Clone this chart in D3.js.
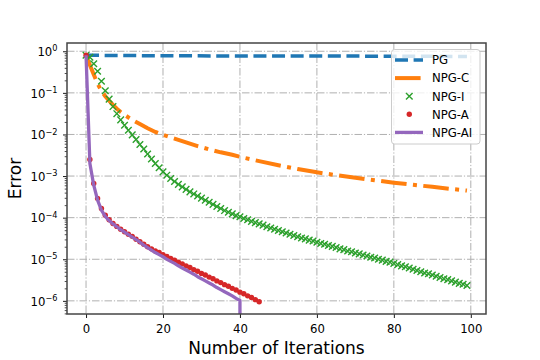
<!DOCTYPE html>
<html><head><meta charset="utf-8">
<script src="https://cdn.jsdelivr.net/npm/d3@7"></script>
<style>body{margin:0;background:#fff}svg{display:block}</style>
</head><body>
<svg id="c" width="540" height="360"></svg>
<script>
// ---------- data ----------
const seriesNames = ["PG", "NPG-C", "NPG-I", "NPG-A", "NPG-AI"];
const xTicks = [0, 20, 40, 60, 80, 100];
const yTicks = [1, 1e-1, 1e-2, 1e-3, 1e-4, 1e-5, 1e-6];
const yTickExp = ["0", "\u22121", "\u22122", "\u22123", "\u22124", "\u22125", "\u22126"];

const pgIter = [0, 20, 40, 60, 80, 99];
const pgErr  = [0.80, 0.78, 0.77, 0.77, 0.76, 0.75];

const npgcIter = [0,1,2,3,4,5,6,7,8,9,10,12,14,16,18,20,23,26,29,32,35,38,41,45,50,55,60,65,70,75,80,85,90,95,99];
const npgcErr  = [0.80,0.468,0.275,0.166,0.110,8.32e-2,6.46e-2,5.13e-2,4.17e-2,3.47e-2,2.95e-2,2.24e-2,1.78e-2,1.41e-2,1.15e-2,9.77e-3,7.94e-3,6.46e-3,5.25e-3,4.37e-3,3.72e-3,3.24e-3,2.75e-3,2.29e-3,1.82e-3,1.48e-3,1.23e-3,1.05e-3,9.12e-4,7.94e-4,6.92e-4,6.17e-4,5.50e-4,4.90e-4,4.47e-4];

const npgiErr = [0.80,0.72,0.50,0.33,0.19,0.112,7.08e-2,4.68e-2,3.16e-2,2.24e-2,
1.66e-2,1.26e-2,9.77e-3,7.59e-3,5.75e-3,4.47e-3,3.39e-3,2.57e-3,2.00e-3,1.58e-3,
1.26e-3,1.05e-3,8.71e-4,7.41e-4,6.31e-4,5.50e-4,4.79e-4,4.17e-4,3.72e-4,3.31e-4,
2.95e-4,2.63e-4,2.34e-4,2.09e-4,1.86e-4,1.66e-4,1.48e-4,1.35e-4,1.23e-4,1.12e-4,
1.05e-4,9.55e-5,8.91e-5,8.13e-5,7.59e-5,7.08e-5,6.61e-5,6.03e-5,5.62e-5,5.25e-5,
4.90e-5,4.57e-5,4.27e-5,3.98e-5,3.72e-5,3.47e-5,3.24e-5,3.09e-5,2.88e-5,2.75e-5,
2.57e-5,2.40e-5,2.29e-5,2.14e-5,2.04e-5,1.91e-5,1.78e-5,1.70e-5,1.58e-5,1.51e-5,
1.41e-5,1.35e-5,1.26e-5,1.20e-5,1.12e-5,1.07e-5,1.00e-5,9.55e-6,8.91e-6,8.51e-6,
7.94e-6,7.41e-6,6.92e-6,6.61e-6,6.17e-6,5.75e-6,5.37e-6,5.01e-6,4.68e-6,4.47e-6,
4.17e-6,3.89e-6,3.63e-6,3.39e-6,3.24e-6,3.02e-6,2.82e-6,2.63e-6,2.51e-6,2.34e-6];

const npgaErr = [0.80,2.51e-3,6.61e-4,2.88e-4,1.66e-4,1.15e-4,8.91e-5,7.24e-5,6.17e-5,5.25e-5,
4.57e-5,3.98e-5,3.55e-5,3.02e-5,2.63e-5,2.29e-5,2.00e-5,1.78e-5,1.58e-5,1.45e-5,
1.29e-5,1.17e-5,1.05e-5,9.55e-6,8.51e-6,7.76e-6,6.92e-6,6.31e-6,5.62e-6,5.13e-6,
4.57e-6,4.17e-6,3.72e-6,3.39e-6,3.02e-6,2.75e-6,2.45e-6,2.24e-6,2.00e-6,1.82e-6,
1.62e-6,1.48e-6,1.32e-6,1.20e-6,1.07e-6,9.55e-7];

const npgaiErr = [0.80,2.00e-3,6.03e-4,2.63e-4,1.51e-4,1.07e-4,8.51e-5,7.08e-5,6.03e-5,5.13e-5,
4.47e-5,3.89e-5,3.39e-5,2.95e-5,2.57e-5,2.19e-5,1.91e-5,1.66e-5,1.45e-5,1.29e-5,
1.15e-5,1.00e-5,8.91e-6,7.94e-6,6.92e-6,6.17e-6,5.50e-6,4.90e-6,4.37e-6,3.80e-6,
3.39e-6,3.02e-6,2.69e-6,2.40e-6,2.09e-6,1.86e-6,1.66e-6,1.48e-6,1.32e-6,1.15e-6,
1.02e-6,0];

// ---------- layout ----------
const svg = d3.select("#c");
const L = 67, T = 43, R = 486, B = 314;
const x = d3.scaleLinear().domain([-4.95, 103.95]).range([L, R]);
const y = d3.scaleLog().domain([4.83e-7, 1.58]).range([B, T]);
const yv = v => y(v > 0 ? v : 1e-300);
const colors = ["#1f77b4", "#ff7f0e", "#2ca02c", "#d62728", "#9467bd"];
const font = "DejaVu Sans, sans-serif";

svg.append("defs").append("clipPath").attr("id", "clip")
  .append("rect").attr("x", L).attr("y", T).attr("width", R - L).attr("height", B - T);

// grid
const grid = svg.append("g").attr("stroke", "#b0b0b0").attr("stroke-width", 1)
  .attr("stroke-dasharray", "7.5,1.9,1.2,1.9").attr("fill", "none");
grid.selectAll("line.gx").data(xTicks).join("line").attr("class", "gx")
  .attr("x1", d => x(d)).attr("x2", d => x(d)).attr("y1", T).attr("y2", B);
grid.selectAll("line.gy").data(yTicks).join("line").attr("class", "gy")
  .attr("x1", L).attr("x2", R).attr("y1", d => y(d)).attr("y2", d => y(d));

// series
const plot = svg.append("g").attr("clip-path", "url(#clip)");
const line = d3.line().x(d => x(d[0])).y(d => yv(d[1]));

plot.append("path").datum(pgIter.map((k, i) => [k, pgErr[i]]))
  .attr("d", line).attr("fill", "none").attr("stroke", colors[0])
  .attr("stroke-width", 3.5).attr("stroke-dasharray", "13,5.6");

plot.append("path").datum(npgcIter.map((k, i) => [k, npgcErr[i]]))
  .attr("d", line).attr("fill", "none").attr("stroke", colors[1])
  .attr("stroke-width", 4).attr("stroke-dasharray", "25.6,6.4,4,6.4");

const xs = 3.3;
plot.append("g").selectAll("path").data(npgiErr.map((v, i) => [i, v])).join("path")
  .attr("d", d => { const cx = x(d[0]), cy = yv(d[1]);
    return `M${cx-xs},${cy-xs}L${cx+xs},${cy+xs}M${cx-xs},${cy+xs}L${cx+xs},${cy-xs}`; })
  .attr("stroke", colors[2]).attr("stroke-width", 1.4).attr("fill", "none");

plot.append("g").selectAll("circle").data(npgaErr.map((v, i) => [i, v])).join("circle")
  .attr("cx", d => x(d[0])).attr("cy", d => yv(d[1])).attr("r", 2.7).attr("fill", colors[3]);

plot.append("path").datum(npgaiErr.map((v, i) => [i, v]))
  .attr("d", line).attr("fill", "none").attr("stroke", colors[4])
  .attr("stroke-width", 3.3).attr("stroke-linejoin", "round");

// axes
const xAxis = svg.append("g").attr("transform", `translate(0,${B})`)
  .call(d3.axisBottom(x).tickValues(xTicks).tickSize(4).tickPadding(6.5).tickFormat(d3.format("d")));
xAxis.select(".domain").remove();
xAxis.selectAll("line").attr("stroke", "#000").attr("stroke-width", 0.9);
xAxis.selectAll("text").attr("font-family", font).attr("font-size", 11.7).attr("fill", "#000");

const minorVals = [];
[1e-7, 1e-6, 1e-5, 1e-4, 1e-3, 1e-2, 1e-1, 1].forEach(dec => {
  [2,3,4,5,6,7,8,9].forEach(m => { const v = m * dec; if (v >= 4.83e-7 && v <= 1.58) minorVals.push(v); });
});
const yMinor = svg.append("g").attr("transform", `translate(${L},0)`)
  .call(d3.axisLeft(y).tickValues(minorVals).tickSize(2.3).tickFormat(""));
yMinor.select(".domain").remove();
yMinor.selectAll("line").attr("stroke", "#000").attr("stroke-width", 0.7);

const yAxis = svg.append("g").attr("transform", `translate(${L},0)`)
  .call(d3.axisLeft(y).tickValues(yTicks).tickSize(4).tickFormat(""));
yAxis.select(".domain").remove();
yAxis.selectAll("line").attr("stroke", "#000").attr("stroke-width", 0.9);
yAxis.selectAll(".tick").each(function(d, i) {
  const t = d3.select(this).append("text").attr("x", -9.5).attr("y", 4.3)
    .attr("text-anchor", "end").attr("font-family", font).attr("fill", "#000");
  t.append("tspan").attr("font-size", 11.7).text("10");
  t.append("tspan").attr("font-size", 8.2).attr("dy", -4.6).text(yTickExp[i]);
});

// spines
svg.append("rect").attr("x", L).attr("y", T).attr("width", R - L).attr("height", B - T)
  .attr("fill", "none").attr("stroke", "#444").attr("stroke-width", 1.5);

// axis labels
svg.append("text").attr("x", (L + R) / 2).attr("y", 353.5).attr("text-anchor", "middle")
  .attr("font-family", font).attr("font-size", 17).attr("fill", "#000").text("Number of Iterations");
svg.append("text").attr("transform", `translate(21,${(T + B) / 2}) rotate(-90)`).attr("text-anchor", "middle")
  .attr("font-family", font).attr("font-size", 17).attr("fill", "#000").text("Error");

// legend
const lg = svg.append("g");
lg.append("rect").attr("x", 391.5).attr("y", 49.5).attr("width", 88.5).attr("height", 94.5).attr("rx", 3)
  .attr("fill", "#fff").attr("fill-opacity", 0.8).attr("stroke", "#cccccc").attr("stroke-width", 1);
const rowY = i => 60 + i * 18.1;
const hx0 = 395, hx1 = 423, hxm = 409.3;
lg.append("line").attr("x1", hx0).attr("x2", hx1).attr("y1", rowY(0)).attr("y2", rowY(0))
  .attr("stroke", colors[0]).attr("stroke-width", 3.5).attr("stroke-dasharray", "13,5.6");
lg.append("line").attr("x1", hx0).attr("x2", hx1).attr("y1", rowY(1)).attr("y2", rowY(1))
  .attr("stroke", colors[1]).attr("stroke-width", 4).attr("stroke-dasharray", "25.6,6.4,4,6.4");
lg.append("path").attr("d", `M${hxm-xs},${rowY(2)-xs}L${hxm+xs},${rowY(2)+xs}M${hxm-xs},${rowY(2)+xs}L${hxm+xs},${rowY(2)-xs}`)
  .attr("stroke", colors[2]).attr("stroke-width", 1.4);
lg.append("circle").attr("cx", hxm).attr("cy", rowY(3)).attr("r", 2.7).attr("fill", colors[3]);
lg.append("line").attr("x1", hx0).attr("x2", hx1).attr("y1", rowY(4)).attr("y2", rowY(4))
  .attr("stroke", colors[4]).attr("stroke-width", 3.3);
lg.selectAll("text").data(seriesNames).join("text")
  .attr("x", 432).attr("y", (d, i) => rowY(i) + 4.3)
  .attr("font-family", font).attr("font-size", 11.7).attr("fill", "#000").text(d => d);
</script>
</body></html>
